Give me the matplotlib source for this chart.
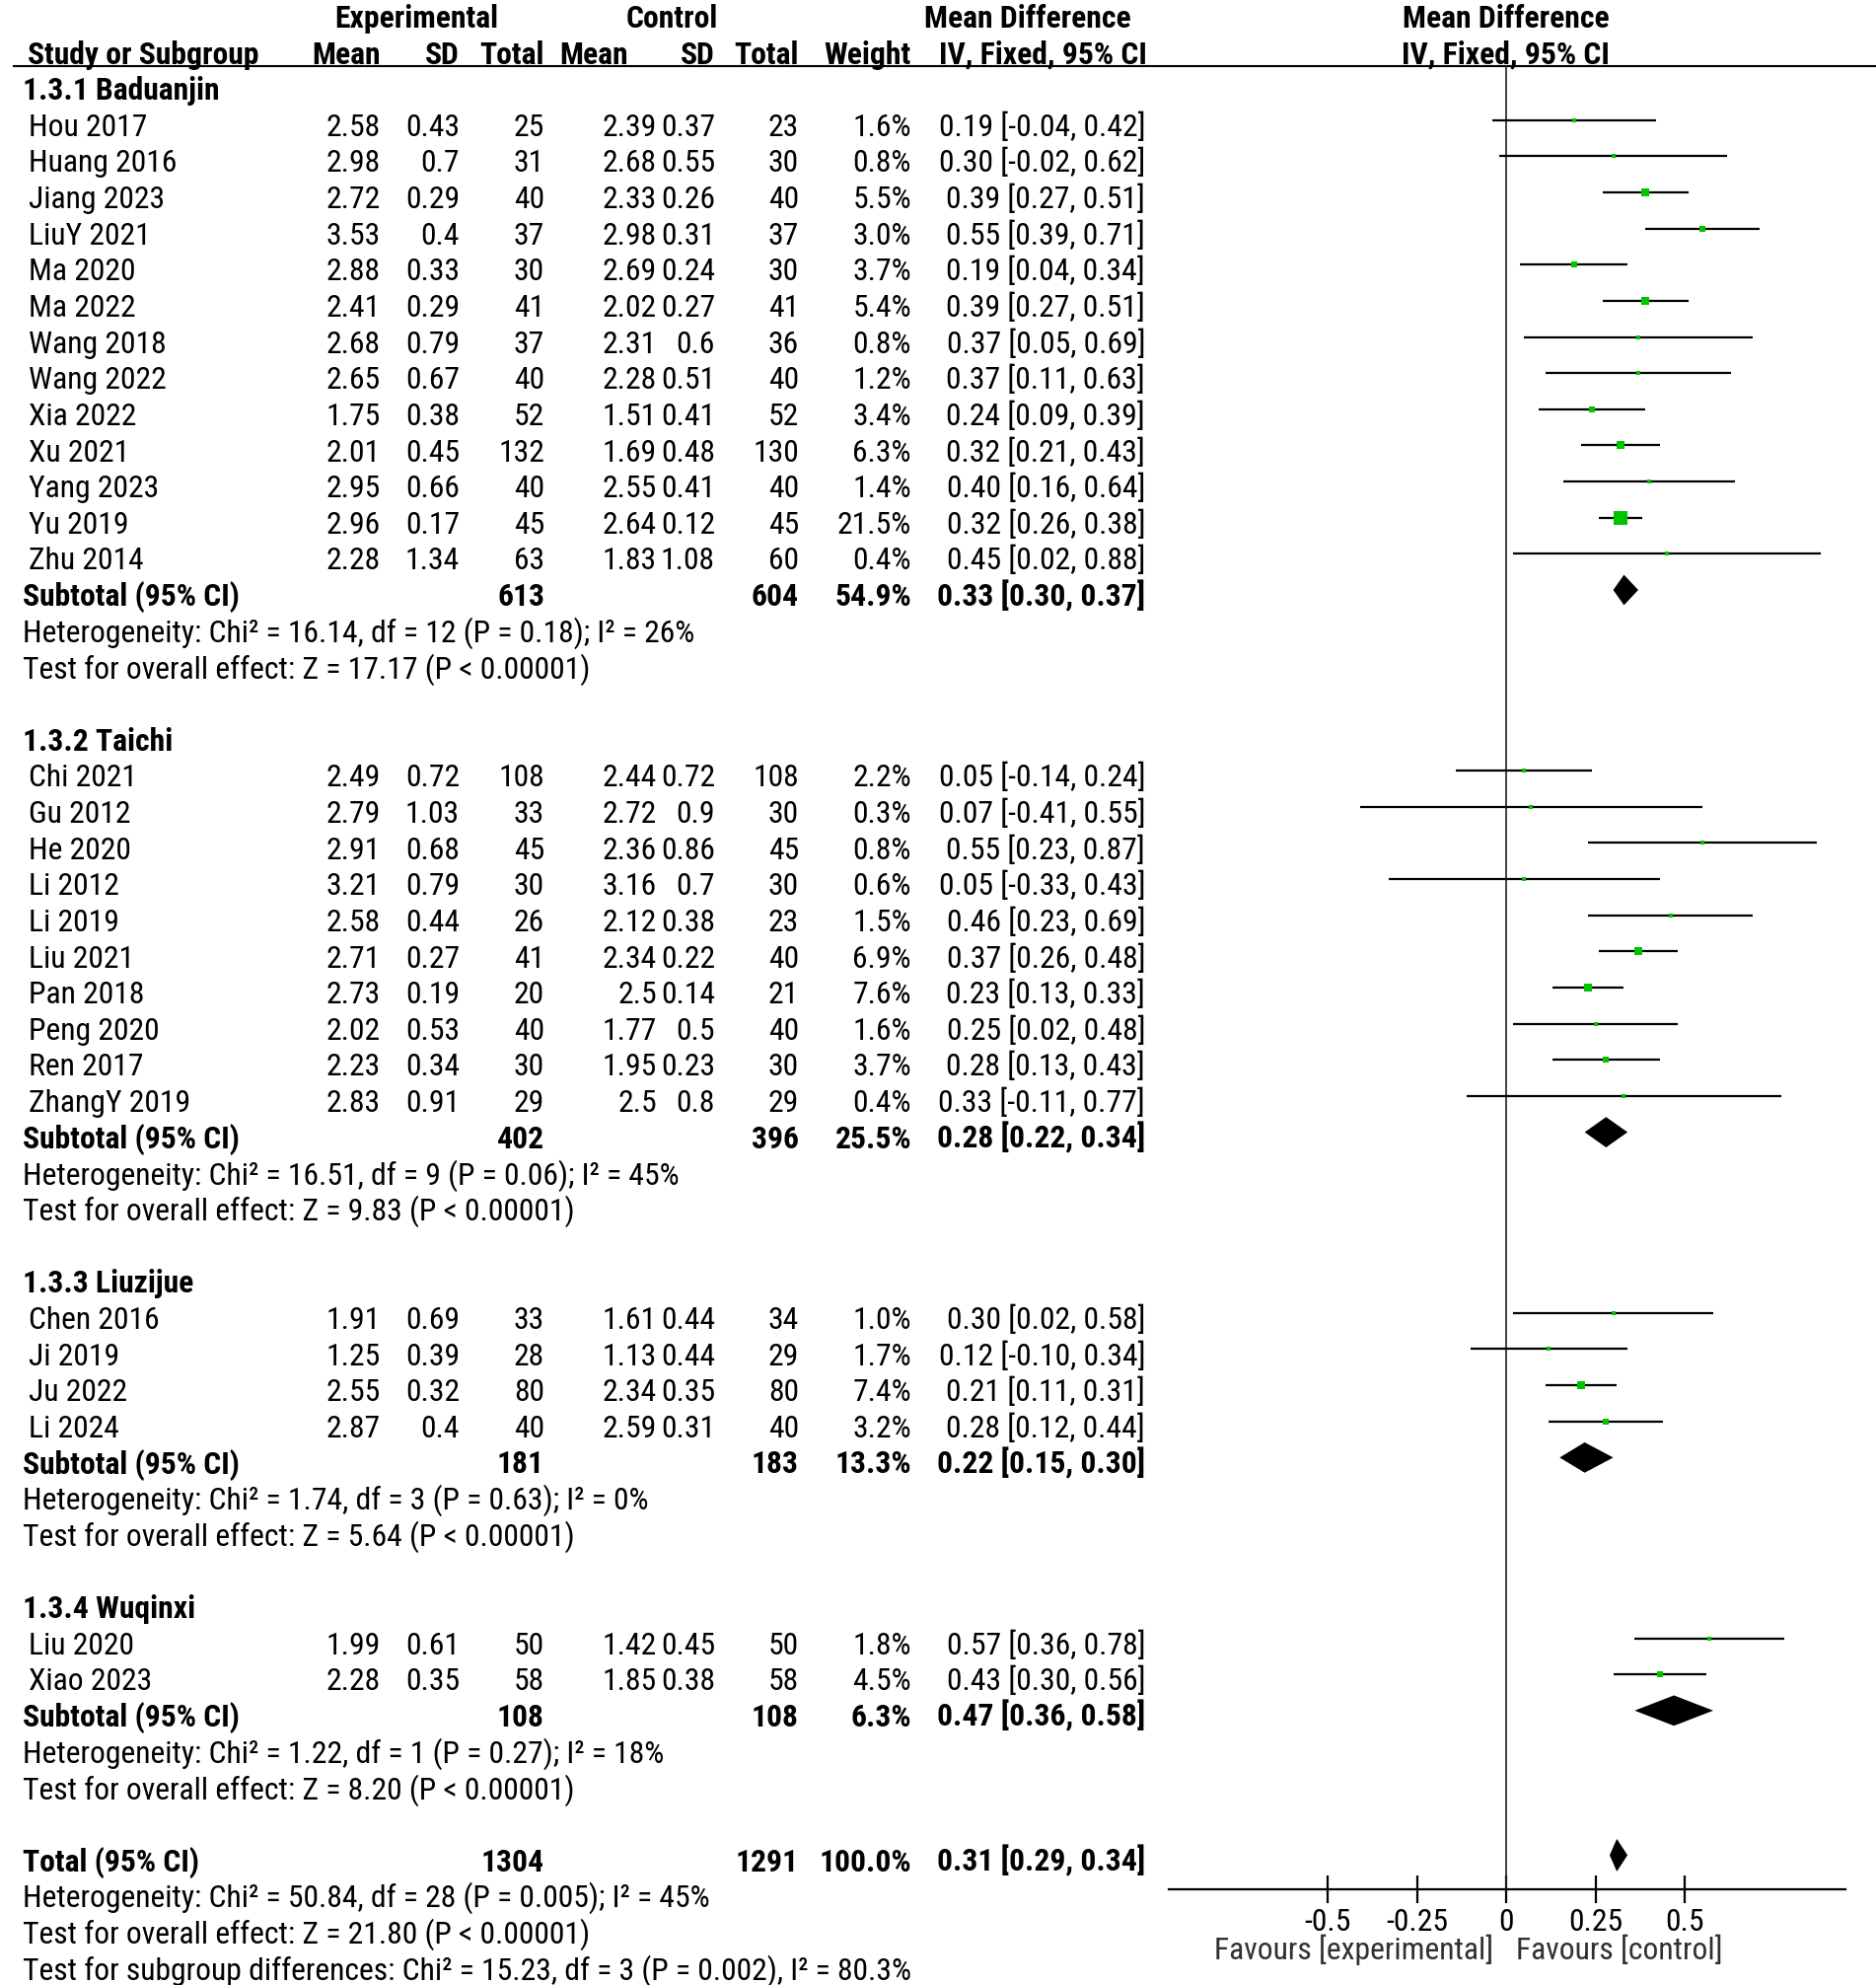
import numpy as np
import matplotlib
matplotlib.use("Agg")
import matplotlib.pyplot as plt
from matplotlib import font_manager as fm

# ---------------- data ----------------
group_names = ["1.3.1 Baduanjin", "1.3.2 Taichi", "1.3.3 Liuzijue", "1.3.4 Wuqinxi"]
group_sizes = [13, 10, 4, 2]

study = ["Hou 2017", "Huang 2016", "Jiang 2023", "LiuY 2021", "Ma 2020", "Ma 2022",
         "Wang 2018", "Wang 2022", "Xia 2022", "Xu 2021", "Yang 2023", "Yu 2019", "Zhu 2014",
         "Chi 2021", "Gu 2012", "He 2020", "Li 2012", "Li 2019", "Liu 2021", "Pan 2018",
         "Peng 2020", "Ren 2017", "ZhangY 2019",
         "Chen 2016", "Ji 2019", "Ju 2022", "Li 2024",
         "Liu 2020", "Xiao 2023"]
exp_mean = [2.58, 2.98, 2.72, 3.53, 2.88, 2.41, 2.68, 2.65, 1.75, 2.01, 2.95, 2.96, 2.28,
            2.49, 2.79, 2.91, 3.21, 2.58, 2.71, 2.73, 2.02, 2.23, 2.83,
            1.91, 1.25, 2.55, 2.87,
            1.99, 2.28]
exp_sd = [0.43, 0.7, 0.29, 0.4, 0.33, 0.29, 0.79, 0.67, 0.38, 0.45, 0.66, 0.17, 1.34,
          0.72, 1.03, 0.68, 0.79, 0.44, 0.27, 0.19, 0.53, 0.34, 0.91,
          0.69, 0.39, 0.32, 0.4,
          0.61, 0.35]
exp_n = [25, 31, 40, 37, 30, 41, 37, 40, 52, 132, 40, 45, 63,
         108, 33, 45, 30, 26, 41, 20, 40, 30, 29,
         33, 28, 80, 40,
         50, 58]
ctl_mean = [2.39, 2.68, 2.33, 2.98, 2.69, 2.02, 2.31, 2.28, 1.51, 1.69, 2.55, 2.64, 1.83,
            2.44, 2.72, 2.36, 3.16, 2.12, 2.34, 2.5, 1.77, 1.95, 2.5,
            1.61, 1.13, 2.34, 2.59,
            1.42, 1.85]
ctl_sd = [0.37, 0.55, 0.26, 0.31, 0.24, 0.27, 0.6, 0.51, 0.41, 0.48, 0.41, 0.12, 1.08,
          0.72, 0.9, 0.86, 0.7, 0.38, 0.22, 0.14, 0.5, 0.23, 0.8,
          0.44, 0.44, 0.35, 0.31,
          0.45, 0.38]
ctl_n = [23, 30, 40, 37, 30, 41, 36, 40, 52, 130, 40, 45, 60,
         108, 30, 45, 30, 23, 40, 21, 40, 30, 29,
         34, 29, 80, 40,
         50, 58]
weight = [1.6, 0.8, 5.5, 3.0, 3.7, 5.4, 0.8, 1.2, 3.4, 6.3, 1.4, 21.5, 0.4,
          2.2, 0.3, 0.8, 0.6, 1.5, 6.9, 7.6, 1.6, 3.7, 0.4,
          1.0, 1.7, 7.4, 3.2,
          1.8, 4.5]
md = [0.19, 0.30, 0.39, 0.55, 0.19, 0.39, 0.37, 0.37, 0.24, 0.32, 0.40, 0.32, 0.45,
      0.05, 0.07, 0.55, 0.05, 0.46, 0.37, 0.23, 0.25, 0.28, 0.33,
      0.30, 0.12, 0.21, 0.28,
      0.57, 0.43]
ci_lo = [-0.04, -0.02, 0.27, 0.39, 0.04, 0.27, 0.05, 0.11, 0.09, 0.21, 0.16, 0.26, 0.02,
         -0.14, -0.41, 0.23, -0.33, 0.23, 0.26, 0.13, 0.02, 0.13, -0.11,
         0.02, -0.10, 0.11, 0.12,
         0.36, 0.30]
ci_hi = [0.42, 0.62, 0.51, 0.71, 0.34, 0.51, 0.69, 0.63, 0.39, 0.43, 0.64, 0.38, 0.88,
         0.24, 0.55, 0.87, 0.43, 0.69, 0.48, 0.33, 0.48, 0.43, 0.77,
         0.58, 0.34, 0.31, 0.44,
         0.78, 0.56]

sub_exp_n = [613, 402, 181, 108]
sub_ctl_n = [604, 396, 183, 108]
sub_weight = [54.9, 25.5, 13.3, 6.3]
sub_md = [0.33, 0.28, 0.22, 0.47]
sub_lo = [0.30, 0.22, 0.15, 0.36]
sub_hi = [0.37, 0.34, 0.30, 0.58]
sub_chi2 = ["16.14", "16.51", "1.74", "1.22"]
sub_df = [12, 9, 3, 1]
sub_p = ["0.18", "0.06", "0.63", "0.27"]
sub_i2 = [26, 45, 0, 18]
sub_z = ["17.17", "9.83", "5.64", "8.20"]

tot_exp_n, tot_ctl_n, tot_weight = 1304, 1291, 100.0
tot_md, tot_lo, tot_hi = 0.31, 0.29, 0.34
tot_het = "Heterogeneity: Chi² = 50.84, df = 28 (P = 0.005); I² = 45%"
tot_test = "Test for overall effect: Z = 21.80 (P < 0.00001)"
sub_diff = "Test for subgroup differences: Chi² = 15.23, df = 3 (P = 0.002), I² = 80.3%"

xticks = [-0.5, -0.25, 0, 0.25, 0.5]
xticklabels = ["-0.5", "-0.25", "0", "0.25", "0.5"]

# ---------------- font choice ----------------
names = {f.name for f in fm.fontManager.ttflist}
FAMILY = None
STRETCH = 'normal'
for cand in ['Liberation Sans Narrow', 'Arial Narrow', 'Roboto Condensed', 'Open Sans Condensed',
             'Noto Sans Condensed', 'DejaVu Sans Condensed']:
    if cand in names:
        FAMILY = cand
        break
if FAMILY is None:
    for f in fm.fontManager.ttflist:
        st = f.stretch
        cond = (isinstance(st, str) and 'condensed' in st) or (isinstance(st, (int, float)) and st < 500)
        if cond and f.name in ('Liberation Sans', 'DejaVu Sans', 'Roboto', 'Open Sans', 'Noto Sans', 'Inter', 'Lato'):
            FAMILY = f.name
            STRETCH = 'condensed'
            break
if FAMILY is None:
    FAMILY = 'Liberation Sans'
plt.rcParams['font.family'] = [FAMILY, 'Liberation Sans', 'DejaVu Sans']
plt.rcParams['font.stretch'] = STRETCH

# ---------------- layout ----------------
W, H = 1902, 2012
DPI = 100
ROW0, ROWH = 18.0, 36.64
top_row = -ROW0 / ROWH
bot_row = (H - ROW0) / ROWH
GREEN = '#00c400'

fig = plt.figure(figsize=(W / DPI, H / DPI), dpi=DPI)
tax = fig.add_axes([0, 0, 1, 1])
tax.set_xlim(0, W)
tax.set_ylim(bot_row, top_row)
tax.axis('off')

# size the font so that a reference line has the reference width (683 px)
renderer = fig.canvas.get_renderer()
_probe = tax.text(0, 5, "Heterogeneity: Chi² = 16.14, df = 12 (P = 0.18); I² = 26%", fontsize=24)
_w = _probe.get_window_extent(renderer).width
_probe.remove()
FS = 24 * 683.0 / _w

x0_px, x1_px, zero_px, unit_px = 1185, 1871, 1527, 362.0
axis_px = 1915
axis_row = (axis_px - ROW0) / ROWH
fax = fig.add_axes([x0_px / W, 1 - axis_px / H, (x1_px - x0_px) / W, axis_px / H])
fax.set_xlim((x0_px - zero_px) / unit_px, (x1_px - zero_px) / unit_px)
fax.set_ylim(axis_row, top_row)
fax.patch.set_alpha(0)
for s in ['top', 'left', 'right']:
    fax.spines[s].set_visible(False)
fax.spines['bottom'].set_linewidth(1.6)
fax.set_yticks([])
fax.set_xticks(xticks)
fax.set_xticklabels(xticklabels, fontsize=FS)
fax.tick_params(axis='x', direction='inout', length=20, width=1.6, pad=4, colors='black')

c_name = 29
c_cols = [386, 466, 552, 666, 725, 810, 924, 1161]
BL = 0.27

def txt(x, r, s, ha='left', bold=False, color='black'):
    tax.text(x, r + BL, s, ha=ha, va='baseline', fontsize=FS,
             fontweight='bold' if bold else 'normal', color=color)

txt(422, 0, "Experimental", ha='center', bold=True)
txt(681, 0, "Control", ha='center', bold=True)
txt(1042, 0, "Mean Difference", ha='center', bold=True)
txt(1527, 0, "Mean Difference", ha='center', bold=True)
txt(28, 1, "Study or Subgroup", bold=True)
for x, s in zip([386, 466, 552, 637, 725, 810, 924], ["Mean", "SD", "Total", "Mean", "SD", "Total", "Weight"]):
    txt(x, 1, s, ha='right', bold=True)
txt(1057, 1, "IV, Fixed, 95% CI", ha='center', bold=True)
txt(1526, 1, "IV, Fixed, 95% CI", ha='center', bold=True)
line_row = (67 - ROW0) / ROWH
tax.plot([13, W], [line_row, line_row], color='black', lw=1.5, solid_capstyle='butt')

fax.axvline(0, ymin=0, ymax=(axis_row - line_row) / (axis_row - top_row), color='#202020', lw=1.2)

MOFF = -0.17
row = 2
idx = 0
for g, gname in enumerate(group_names):
    txt(23, row, gname, bold=True)
    row += 1
    for k in range(group_sizes[g]):
        i = idx + k
        txt(c_name, row, study[i])
        vals = [f"{exp_mean[i]:g}", f"{exp_sd[i]:g}", f"{exp_n[i]}",
                f"{ctl_mean[i]:g}", f"{ctl_sd[i]:g}", f"{ctl_n[i]}",
                f"{weight[i]:.1f}%", f"{md[i]:.2f} [{ci_lo[i]:.2f}, {ci_hi[i]:.2f}]"]
        for x, s in zip(c_cols, vals):
            txt(x, row, s, ha='right')
        y = row + MOFF
        fax.hlines(y, ci_lo[i], ci_hi[i], color='black', lw=1.6, zorder=2)
        side_px = max(5.0, 14.0 * np.sqrt(weight[i] / 21.5))
        fax.scatter([md[i]], [y], marker='s', s=(side_px * 0.72) ** 2, color=GREEN,
                    linewidths=0, zorder=3)
        row += 1
    idx += group_sizes[g]
    txt(c_name - 6, row, "Subtotal (95% CI)", bold=True)
    txt(c_cols[2], row, f"{sub_exp_n[g]}", ha='right', bold=True)
    txt(c_cols[5], row, f"{sub_ctl_n[g]}", ha='right', bold=True)
    txt(c_cols[6], row, f"{sub_weight[g]:.1f}%", ha='right', bold=True)
    txt(c_cols[7], row, f"{sub_md[g]:.2f} [{sub_lo[g]:.2f}, {sub_hi[g]:.2f}]", ha='right', bold=True)
    y = row + MOFF
    h = 0.42
    fax.fill([sub_lo[g], sub_md[g], sub_hi[g], sub_md[g]], [y, y - h, y, y + h],
             color='black', lw=0, zorder=3)
    row += 1
    txt(c_name - 6, row, f"Heterogeneity: Chi² = {sub_chi2[g]}, df = {sub_df[g]} (P = {sub_p[g]}); I² = {sub_i2[g]}%")
    row += 1
    txt(c_name - 6, row, f"Test for overall effect: Z = {sub_z[g]} (P < 0.00001)")
    row += 2

txt(c_name - 6, row, "Total (95% CI)", bold=True)
txt(c_cols[2], row, f"{tot_exp_n}", ha='right', bold=True)
txt(c_cols[5], row, f"{tot_ctl_n}", ha='right', bold=True)
txt(c_cols[6], row, f"{tot_weight:.1f}%", ha='right', bold=True)
txt(c_cols[7], row, f"{tot_md:.2f} [{tot_lo:.2f}, {tot_hi:.2f}]", ha='right', bold=True)
y = row + MOFF
h = 0.45
fax.fill([tot_lo, tot_md, tot_hi, tot_md], [y, y - h, y, y + h], color='black', lw=0, zorder=3)
txt(c_name - 6, row + 1, tot_het)
txt(c_name - 6, row + 2, tot_test)
txt(c_name - 6, row + 3, sub_diff)

fav_row = (1976 - ROW0) / ROWH
txt(1514, fav_row, "Favours [experimental]", ha='right', color='#303030')
txt(1537, fav_row, "Favours [control]", ha='left', color='#303030')

fig.savefig("out.png", dpi=DPI)
